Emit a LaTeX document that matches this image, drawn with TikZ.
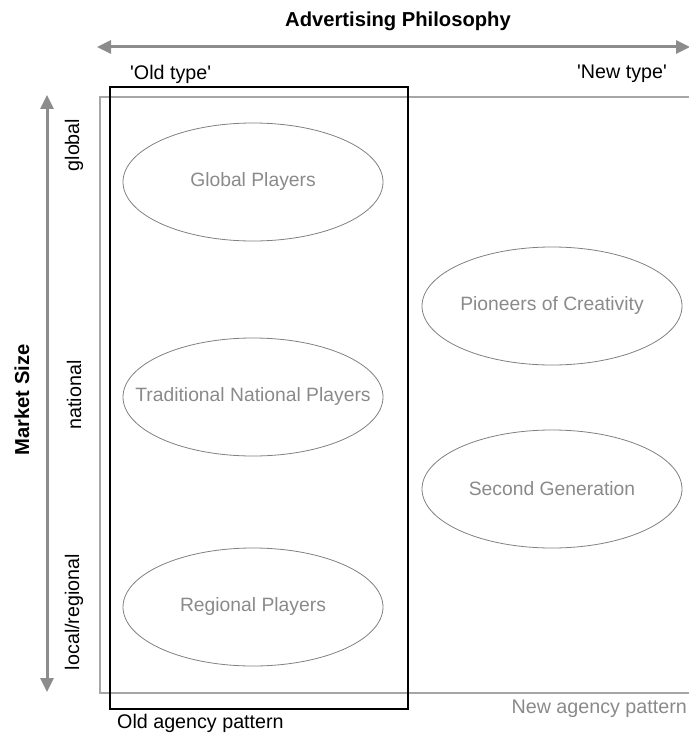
\documentclass[tikz,border=0pt]{standalone}
\usepackage{fontspec}
\setmainfont{Liberation Sans}
\usetikzlibrary{shapes.geometric,arrows.meta}
\definecolor{axisgray}{HTML}{8C8C8C}
\definecolor{boxgray}{HTML}{A6A6A6}
\definecolor{ellgray}{HTML}{808080}
\definecolor{txtgray}{HTML}{8A8A8A}
\tikzset{
  txt/.style={font=\fontsize{19.7}{23}\selectfont, inner sep=0pt},
  btxt/.style={font=\fontsize{20.2}{23}\selectfont\bfseries, inner sep=0pt},
  player/.style={ellipse, draw=ellgray, line width=0.8pt, minimum width=260pt, minimum height=118pt, inner sep=0pt,
    text=txtgray, font=\fontsize{19.3}{22}\selectfont},
  axis/.style={draw=axisgray, line width=3pt, {Triangle[length=14pt,width=13pt]}-{Triangle[length=14pt,width=13pt]}}
}
\newcommand{\zw}[1]{\makebox[0pt]{#1}}
\begin{document}
\begin{tikzpicture}[x=1pt,y=-1pt]
\useasboundingbox (0,0) rectangle (688,733);
% new agency pattern frame (gray)
\draw[boxgray, line width=1.5pt] (100,97) rectangle (690,693);
% old agency pattern frame (black)
\draw[black, line width=2pt] (110,87) rectangle (408,709);
% axes
\coordinate (hl) at (97,47);
\coordinate (hr) at (690,47);
\coordinate (vt) at (47,95);
\coordinate (vb) at (47,692);
\draw[axis] (hl) -- (hr);
\draw[axis] (vt) -- (vb);
% titles
\node[btxt] (adv) at (398,21) {Advertising Philosophy};
\node[btxt, rotate=90] (mkt) at (22,400) {Market Size};
\node[txt, anchor=west] (old) at (130,74) {\textquotesingle Old type\textquotesingle};
\node[txt, anchor=east] (new) at (667,74) {\textquotesingle New type\textquotesingle};
\node[txt, rotate=90] (glob) at (74,145) {global};
\node[txt, rotate=90] (nat) at (74,395) {national};
\node[txt, rotate=90] (loc) at (74,612) {local/regional};
% ellipses
\node[player] (gp) at (253,182) {\zw{Global Players}};
\node[player] (tnp) at (253,397) {\zw{Traditional National Players}};
\node[player] (rp) at (253,607) {\zw{Regional Players}};
\node[player] (poc) at (552,306) {\zw{Pioneers of Creativity}};
\node[player] (sg) at (552,489) {\zw{Second Generation}};
% pattern labels
\node[txt, anchor=north west] (oap) at (117,714) {Old agency pattern};
\node[txt, anchor=north east, text=txtgray] (nap) at (687,700) {New agency pattern};
\end{tikzpicture}
\end{document}
